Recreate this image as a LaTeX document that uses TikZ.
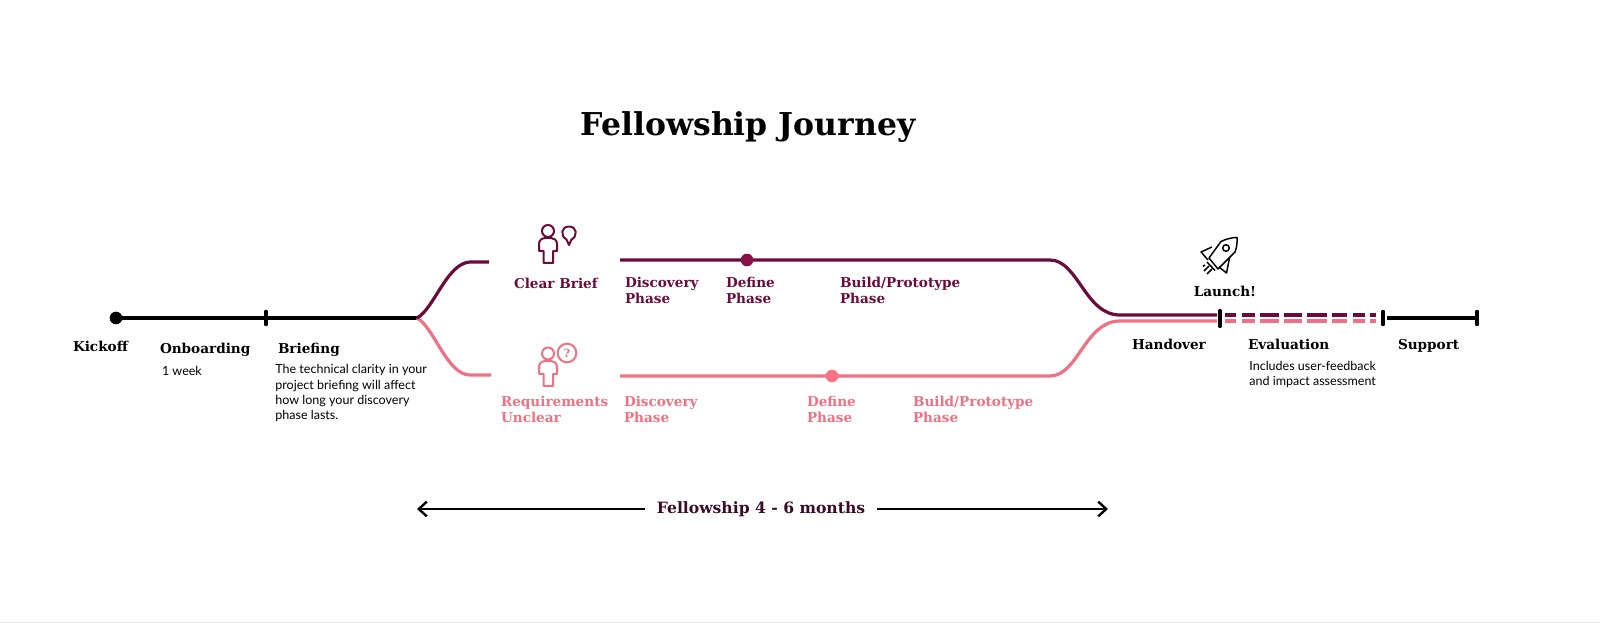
\documentclass[tikz,border=0pt]{standalone}
\usepackage{xcolor}
\definecolor{fjPlum}{HTML}{6B0A3C}
\definecolor{fjBerry}{HTML}{8A1048}
\definecolor{fjRose}{HTML}{EF7183}
\definecolor{fjCoral}{HTML}{FF7084}
\definecolor{fjInk}{HTML}{000000}
\definecolor{fjNight}{HTML}{3A0A26}
\usepackage{fontspec}
\setmainfont{Lato}
\newfontfamily\slabfont{DejaVu Serif}
\usepackage{tikz}
\usetikzlibrary{positioning,arrows.meta}

\begin{document}
\begin{tikzpicture}[
      x=0.75pt,y=-0.75pt,
      every node/.style={inner sep=0pt,outer sep=0pt},
      stage/.style={anchor=base west,font=\slabfont\bfseries\fontsize{10.2}{12.4}\selectfont,
                    align=left,fjInk},
      plumstage/.style={stage,fjPlum},
      rosestage/.style={stage,fjRose},
      note/.style={anchor=north west,font=\fontsize{9.4}{11.5}\selectfont,align=left,fjInk},
      track/.style={line width=2.9pt,fjInk},
      thintrack/.style={line width=2.3pt,fjInk},
      plumline/.style={line width=2.4pt,fjPlum},
      roseline/.style={line width=2.4pt,fjRose},
      evaldash/.style={dash pattern=on 8.25pt off 4.25pt on 10pt off 3.75pt on 14.5pt off 3.5pt
                       on 13.3pt off 4.25pt on 14.5pt off 4.25pt on 11.25pt off 4.5pt
                       on 8.75pt off 3.75pt on 4.5pt off 9pt},
      tick/.style={line width=2.3pt,line cap=round,fjInk},
      span/.style={-{Straight Barb[length=6pt,width=11pt]},line width=1.8pt,fjInk},
      glyph/.style={line width=1.5pt,line join=round},
      stop/.style={circle,minimum size=9.5pt},
    ]
    \useasboundingbox (0,0) rectangle (1600,623);

    % --- Page edge ---
    \draw[line width=1pt,black!9] (0,622.3) -- (1600,622.3);

    % --- Title ---
    \node[font=\slabfont\bfseries\fontsize{23.6}{27}\selectfont] (title) at (748,127) {Fellowship Journey};

    % --- Points along the route ---
    \node[stop,fill=fjInk] (kickoff) at (116,318) {};
    \coordinate (onboard) at (266,318);
    \coordinate (fork) at (417,318);
    \coordinate (clearin) at (489,262);
    \coordinate (unclearin) at (491,375);
    \coordinate (clearstart) at (620,260);
    \coordinate (unclearstart) at (620,376);
    \coordinate (clearend) at (1050,260);
    \coordinate (unclearend) at (1050,376);
    \coordinate (clearjoin) at (1120,315);
    \coordinate (unclearjoin) at (1120,321);
    \coordinate (handA) at (1217,315);
    \coordinate (handB) at (1217,321);
    \coordinate (launch) at (1220,318.5);
    \coordinate (evalA) at (1225,315);
    \coordinate (evalB) at (1225,321);
    \coordinate (evalAend) at (1376,315);
    \coordinate (evalBend) at (1376,321);
    \coordinate (evalstop) at (1383,318);
    \coordinate (support) at (1387,318);
    \coordinate (finish) at (1477,318);

    % --- Black route at both ends ---
    \draw[track] (kickoff) -- (fork);
    \draw[thintrack] (support) -- (finish);
    \draw[tick] ([yshift=-5pt]onboard) -- ([yshift=5pt]onboard);
    \draw[tick] ([yshift=-6pt]launch) -- ([yshift=6pt]launch);
    \draw[tick] ([yshift=-5pt]evalstop) -- ([yshift=5pt]evalstop);
    \draw[tick] ([yshift=-5pt]finish) -- ([yshift=5pt]finish);

    % --- Two branches ---
    \draw[roseline] (fork) .. controls (434,327) and (447,375) .. (470,375) -- (unclearin);
    \draw[plumline] (fork) .. controls (434,309) and (447,263) .. (470,262) -- (clearin);
    \draw[plumline] (clearstart) -- (clearend)
      .. controls (1078,260) and (1085,315) .. (clearjoin) -- (handA);
    \draw[roseline] (unclearstart) -- (unclearend)
      .. controls (1078,376) and (1085,321) .. (unclearjoin) -- (handB);
    \node[stop,fill=fjBerry] (cleardefine) at (747,260) {};
    \node[stop,fill=fjCoral] (uncleardefine) at (832,376) {};

    % --- Evaluation runs dashed ---
    \draw[plumline,evaldash] (evalA) -- (evalAend);
    \draw[roseline,evaldash] (evalB) -- (evalBend);

    % --- Main stages ---
    \node[stage] (kicktxt) at (73,352) {Kickoff};
    \node[stage] (onboardtxt) at (160,354) {Onboarding};
    \node[note,below right=9pt and 1.5pt of onboardtxt.base west] (weektxt) {1 week};
    \node[stage] (brieftxt) at (278,354) {Briefing};
    \node[note,below right=8pt and -2pt of brieftxt.base west] (briefnote) {The technical clarity in your\\
      project briefing will affect\\how long your discovery\\phase lasts.};
    \node[stage] (handtxt) at (1132,350) {Handover};
    \node[stage] (evaltxt) at (1248,350) {Evaluation};
    \node[note,below right=8.5pt and 1pt of evaltxt.base west] (evalnote) {Includes user-feedback\\and impact assessment};
    \node[stage] (supporttxt) at (1398,350) {Support};
    \node[stage,anchor=base] (launchtxt) at (1225,297) {Launch!};

    % --- Clear brief branch ---
    \node[plumstage] (cleartxt) at (514,288.5) {Clear Brief};
    \node[plumstage] (clearA) at (625,304) {Discovery\\Phase};
    \node[plumstage] (clearB) at (726,304) {Define\\Phase};
    \node[plumstage] (clearC) at (840,304) {Build/Prototype\\Phase};

    % --- Unclear branch ---
    \node[rosestage] (unclearT) at (501,423) {Requirements\\Unclear};
    \node[rosestage] (unclearA) at (624,423) {Discovery\\Phase};
    \node[rosestage] (unclearB) at (807,423) {Define\\Phase};
    \node[rosestage] (unclearC) at (913,423) {Build/Prototype\\Phase};

    % --- Duration ---
    \node[font=\slabfont\bfseries\fontsize{11.7}{13}\selectfont,text=fjNight] (months) at (761,509) {Fellowship 4 - 6 months};
    \coordinate (spanL) at (417,509);
    \coordinate (spanR) at (1108,509);
    \draw[span] ([xshift=-9pt]months.west) -- (spanL);
    \draw[span] ([xshift=9pt]months.east) -- (spanR);

    % --- Person with balloon ---
    \begin{scope}[glyph,fjPlum]
      \draw (548,231) circle (6);
      \draw (543.5,263) -- (553,263) -- (553,251) -- (557,251) -- (557,244)
        .. controls (557,240) and (554,238) .. (551,238) -- (546,238)
        .. controls (542,238) and (539,240) .. (539,244) -- (539,251) -- (543.5,251) -- cycle;
      \draw (569,245) -- (566.5,239.5) .. controls (560,236) and (561,226.5) .. (569,226.5)
        .. controls (577,226.5) and (578,236) .. (571.5,239.5) -- cycle;
    \end{scope}

    % --- Person with question ---
    \begin{scope}[glyph,fjRose]
      \draw (548,353.5) circle (6);
      \draw (543.5,386) -- (553,386) -- (553,374) -- (557,374) -- (557,367)
        .. controls (557,363) and (554,361) .. (551,361) -- (546,361)
        .. controls (542,361) and (539,363) .. (539,367) -- (539,374) -- (543.5,374) -- cycle;
      \node[circle,draw=fjRose,line width=1.5pt,minimum size=14pt,
            font=\slabfont\bfseries\fontsize{8.5}{9}\selectfont,text=fjRose] (asks) at (567,353) {?};
    \end{scope}

    % --- Rocket ---
    \begin{scope}[line width=1.1pt,line join=round,fjInk]
      \draw (1209,258) -- (1221,241.5) .. controls (1226,239) and (1232,237.5) .. (1237,237.5)
        .. controls (1237.5,243) and (1236.5,248) .. (1235,252) -- (1218,269) -- cycle;
      \draw (1212,247) -- (1201,252) -- (1208,260);
      \draw (1229.5,258) -- (1226.5,273) -- (1219,267);
      \draw (1226,248) circle (3.3);
      \draw (1207,262) -- (1215,270.5);
      \draw (1209,266) -- (1204,271) (1212,269) -- (1207,274) (1205,265) -- (1203,266.5);
    \end{scope}

  \end{tikzpicture}
\end{document}
